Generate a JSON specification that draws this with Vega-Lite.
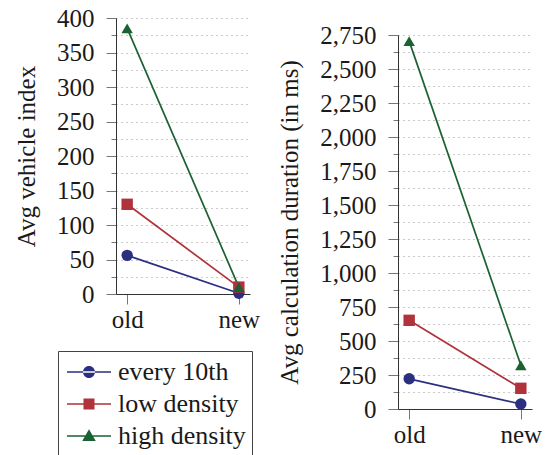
{
  "$schema": "https://vega.github.io/schema/vega-lite/v6.json",
  "padding": {"left": 14, "top": 6, "right": 0, "bottom": 0},
  "datasets": {
    "vehicle": [
      {"version": "old", "series": "every 10th", "value": 56},
      {"version": "new", "series": "every 10th", "value": 1},
      {"version": "old", "series": "low density", "value": 130},
      {"version": "new", "series": "low density", "value": 10},
      {"version": "old", "series": "high density", "value": 385},
      {"version": "new", "series": "high density", "value": 10}
    ],
    "duration": [
      {"version": "old", "series": "every 10th", "value": 222},
      {"version": "new", "series": "every 10th", "value": 37},
      {"version": "old", "series": "low density", "value": 652},
      {"version": "new", "series": "low density", "value": 152},
      {"version": "old", "series": "high density", "value": 2705},
      {"version": "new", "series": "high density", "value": 322}
    ]
  },
  "config": {
    "font": "Liberation Serif",
    "view": {"stroke": null},
    "axis": {
      "labelFont": "Liberation Serif",
      "labelFontSize": 25,
      "titleFont": "Liberation Serif",
      "titleFontSize": 25,
      "titleFontWeight": "normal",
      "labelColor": "#1a1a1a",
      "titleColor": "#1a1a1a",
      "domainColor": "#333",
      "domainWidth": 1,
      "tickColor": "#777",
      "gridColor": "#999",
      "gridDash": [1, 4],
      "gridWidth": 1
    },
    "legend": {
      "labelFont": "Liberation Serif",
      "labelFontSize": 26,
      "labelColor": "#1a1a1a"
    }
  },
  "resolve": {"legend": {"color": "independent"}},
  "spacing": 17,
  "hconcat": [
    {
      "width": 134,
      "height": 276,
      "data": {"name": "vehicle"},
      "encoding": {
        "x": {
          "field": "version", "type": "ordinal", "sort": ["old", "new"],
          "scale": {"type": "point", "padding": 0.1},
          "axis": {"title": null, "labelAngle": 0, "grid": false, "tickSize": 10, "labelPadding": 3}
        },
        "y": {
          "field": "value", "type": "quantitative",
          "scale": {"domain": [0, 400], "nice": false},
          "axis": {
            "title": "Avg vehicle index",
            "values": [0,25,50,75,100,125,150,175,200,225,250,275,300,325,350,375,400],
            "labelExpr": "datum.value % 50 == 0 ? datum.label : ''",
            "labelOverlap": false,
            "grid": true,
            "tickSize": {"condition": {"test": "datum.value % 50 == 0", "value": 10}, "value": 5},
            "labelPadding": 12,
            "titlePadding": 17
          }
        },
        "color": {
          "field": "series", "type": "nominal",
          "scale": {"domain": ["every 10th", "low density", "high density"], "range": ["#2b2f80", "#b0323a", "#1b6232"]},
          "legend": {
            "title": null,
            "orient": "none",
            "legendX": -58,
            "legendY": 333,
            "direction": "vertical",
            "strokeColor": "#444",
            "fillColor": "white",
            "padding": 6,
            "cornerRadius": 0,
            "symbolSize": 900,
            "symbolOffset": 10,
            "rowPadding": 4,
            "labelOffset": 14,
            "encode": {
              "symbols": {
                "update": {
                  "shape": {"signal": "datum.value == 'every 10th' ? 'M-1.467,-0.053 L1.467,-0.053 L1.467,0.053 L-1.467,0.053 Z M-0.4,0 A0.4,0.4 0 1,0 0.4,0 A0.4,0.4 0 1,0 -0.4,0 Z' : datum.value == 'low density' ? 'M-1.467,-0.053 L1.467,-0.053 L1.467,0.053 L-1.467,0.053 Z M-0.367,-0.367 L0.367,-0.367 L0.367,0.367 L-0.367,0.367 Z' : 'M-1.467,-0.053 L1.467,-0.053 L1.467,0.053 L-1.467,0.053 Z M0,-0.45 L0.45,0.33 L-0.45,0.33 Z'"},
                  "size": {"value": 900},
                  "fill": {"signal": "datum.value == 'every 10th' ? '#2b2f80' : datum.value == 'low density' ? '#b0323a' : '#1b6232'"},
                  "stroke": {"value": "transparent"},
                  "strokeWidth": {"value": 0},
                  "opacity": {"value": 1},
                  "fillOpacity": {"value": 1}
                }
              }
            }
          }
        }
      },
      "layer": [
        {"mark": {"type": "line", "strokeWidth": 1.7}},
        {
          "mark": {"type": "point", "filled": true, "size": 130, "opacity": 1},
          "encoding": {
            "shape": {
              "field": "series", "type": "nominal",
              "scale": {"domain": ["every 10th", "low density", "high density"], "range": ["circle", "square", "triangle-up"]},
              "legend": null
            }
          }
        }
      ]
    },
    {
      "width": 134,
      "height": 391,
      "data": {"name": "duration"},
      "encoding": {
        "x": {
          "field": "version", "type": "ordinal", "sort": ["old", "new"],
          "scale": {"type": "point", "padding": 0.1},
          "axis": {"title": null, "labelAngle": 0, "grid": false, "tickSize": 10, "labelPadding": 3}
        },
        "y": {
          "field": "value", "type": "quantitative",
          "scale": {"domain": [0, 2750], "nice": false, "range": [391, 17]},
          "axis": {
            "title": "Avg calculation duration (in ms)",
            "values": [0,125,250,375,500,625,750,875,1000,1125,1250,1375,1500,1625,1750,1875,2000,2125,2250,2375,2500,2625,2750],
            "labelExpr": "datum.value % 250 == 0 ? format(datum.value, ',') : ''",
            "labelOverlap": false,
            "grid": true,
            "tickSize": {"condition": {"test": "datum.value % 250 == 0", "value": 10}, "value": 5},
            "labelPadding": 12,
            "titlePadding": 17
          }
        },
        "color": {
          "field": "series", "type": "nominal",
          "scale": {"domain": ["every 10th", "low density", "high density"], "range": ["#2b2f80", "#b0323a", "#1b6232"]},
          "legend": null
        }
      },
      "layer": [
        {"mark": {"type": "line", "strokeWidth": 1.7}},
        {
          "mark": {"type": "point", "filled": true, "size": 130, "opacity": 1},
          "encoding": {
            "shape": {
              "field": "series", "type": "nominal",
              "scale": {"domain": ["every 10th", "low density", "high density"], "range": ["circle", "square", "triangle-up"]},
              "legend": null
            }
          }
        }
      ]
    }
  ]
}
